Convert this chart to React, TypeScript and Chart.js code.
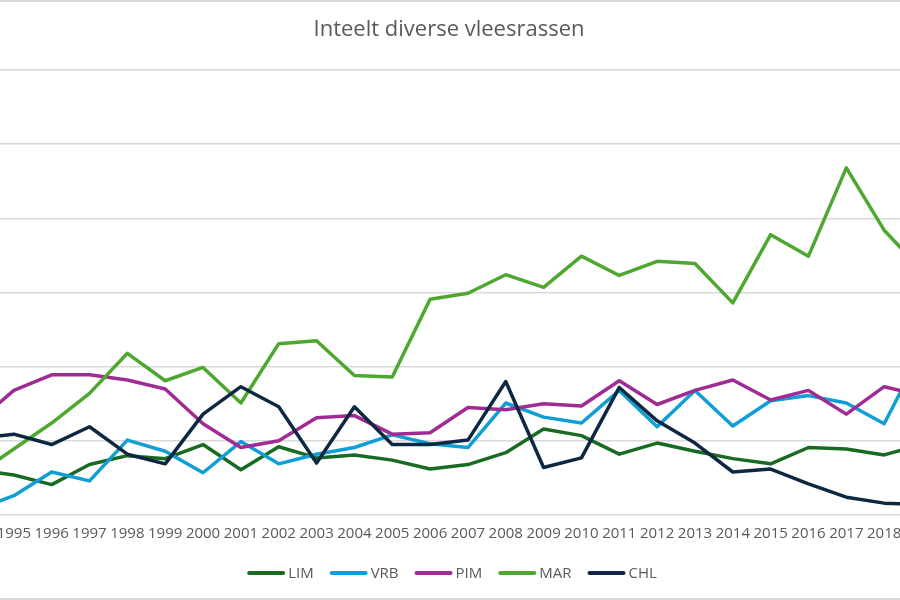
import React, { useEffect, useRef } from "react";
import { Chart, registerables } from "chart.js";

Chart.register(...registerables);

// Years on the category axis (1994 and 2019 sit just outside the visible frame)
const years = [
  "1994", "1995", "1996", "1997", "1998", "1999", "2000", "2001", "2002",
  "2003", "2004", "2005", "2006", "2007", "2008", "2009", "2010", "2011",
  "2012", "2013", "2014", "2015", "2016", "2017", "2018", "2019",
];

const lim = [61, 54, 41, 68, 80, 76, 95, 61, 92, 77, 81, 74, 62, 68, 84, 116, 107, 82, 97, 86, 76, 69, 91, 89, 81, 95];
const vrb = [7, 26, 58, 46, 101, 86, 57, 99, 69, 82, 91, 108, 96, 91, 151, 132, 124, 168, 119, 168, 120, 154, 161, 151, 123, 222];
const pim = [124, 168, 189, 189, 182, 170, 123, 91, 100, 131, 134, 109, 111, 145, 142, 150, 147, 181, 149, 168, 182, 155, 168, 136, 173, 161];
const mar = [54, 89, 124, 164, 218, 181, 199, 151, 231, 235, 188, 186, 291, 299, 324, 307, 349, 323, 342, 339, 286, 378, 349, 468, 384, 330];
const chl = [103, 109, 95, 119, 82, 69, 136, 173, 146, 70, 146, 95, 95, 101, 180, 64, 77, 172, 127, 97, 58, 62, 42, 24, 16, 14];

const seriesNames = ["LIM", "VRB", "PIM", "MAR", "CHL"];
const seriesValues = [lim, vrb, pim, mar, chl];
const seriesColors = ["#196B24", "#0F9ED5", "#A02B93", "#4EA72E", "#0E2841"];

const titleText = "Inteelt diverse vleesrassen";

const FONT = "'Open Sans', 'DejaVu Sans', sans-serif";
const TEXT_GRAY = "#595959";

// Horizontal key under the axis: short line swatch followed by the series name
const lineKey = {
  id: "lineKey",
  afterDraw(chart: any) {
    const ctx: CanvasRenderingContext2D = chart.ctx;
    const swatch = 38;
    const textGap = 3;
    const itemGap = 16;
    ctx.save();
    ctx.font = `15px ${FONT}`;
    const items = chart.data.datasets.map((ds: any) => ({
      label: ds.label as string,
      color: ds.borderColor as string,
      w: ctx.measureText(ds.label).width,
    }));
    const total =
      items.reduce((s: number, it: any) => s + swatch + textGap + it.w, 0) +
      itemGap * (items.length - 1);
    let x = chart.width / 2 + 2 - total / 2;
    const y = chart.height - 25;
    ctx.textBaseline = "middle";
    ctx.textAlign = "left";
    for (const it of items) {
      ctx.strokeStyle = it.color;
      ctx.lineWidth = 4;
      ctx.lineCap = "round";
      ctx.beginPath();
      ctx.moveTo(x + 2, y);
      ctx.lineTo(x + swatch - 2, y);
      ctx.stroke();
      ctx.fillStyle = TEXT_GRAY;
      ctx.fillText(it.label, x + swatch + textGap, y + 1);
      x += swatch + textGap + it.w + itemGap;
    }
    ctx.restore();
  },
};

export default function App() {
  const canvasRef = useRef<HTMLCanvasElement | null>(null);

  useEffect(() => {
    const canvas = canvasRef.current;
    if (!canvas) return;
    const chart = new Chart(canvas, {
      type: "line",
      data: {
        labels: years,
        datasets: seriesNames.map((name, i) => ({
          label: name,
          data: seriesValues[i],
          borderColor: seriesColors[i],
          backgroundColor: seriesColors[i],
          borderWidth: 3.5,
          pointRadius: 0,
          pointHoverRadius: 0,
          tension: 0,
          fill: false,
          borderJoinStyle: "round" as const,
          borderCapStyle: "round" as const,
          order: seriesNames.length - i,
        })),
      },
      options: {
        responsive: false,
        animation: false,
        layout: { padding: { left: 76, right: 78, top: 0, bottom: 45 } },
        plugins: {
          legend: { display: false },
          tooltip: { enabled: false },
          title: {
            display: true,
            text: titleText,
            color: TEXT_GRAY,
            font: { family: FONT, size: 22, weight: "normal", lineHeight: 1.2 },
            padding: { top: 14.8, bottom: 8.8 },
          },
        },
        scales: {
          x: {
            grid: { display: false, drawTicks: false },
            border: { display: false },
            ticks: {
              autoSkip: false,
              maxRotation: 0,
              minRotation: 0,
              color: TEXT_GRAY,
              font: { family: FONT, size: 15 },
              padding: 10,
            },
          },
          y: {
            min: 0,
            max: 624.3,
            grid: { color: "#d9d9d9", lineWidth: 1.5, drawTicks: false },
            border: { display: false },
            ticks: { display: false, stepSize: 100, includeBounds: false },
            afterFit: (s: any) => {
              s.width = 0;
            },
          },
        },
      },
      plugins: [lineKey],
    });
    return () => chart.destroy();
  }, []);

  return (
    <div
      style={{
        position: "fixed",
        left: 0,
        top: 0,
        width: 900,
        height: 600,
        overflow: "hidden",
        background: "#ffffff",
        boxSizing: "border-box",
        borderTop: "2px solid #d9d9d9",
        borderBottom: "2px solid #d9d9d9",
      }}
    >
      <div style={{ position: "absolute", left: -100, top: 0, width: 1100, height: 596 }}>
        <canvas ref={canvasRef} width={1100} height={596} style={{ display: "block" }} />
      </div>
    </div>
  );
}
